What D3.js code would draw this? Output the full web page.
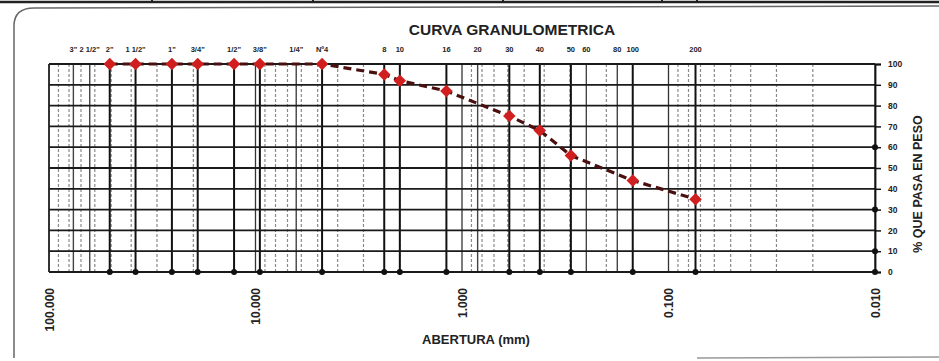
<!DOCTYPE html>
<html><head><meta charset="utf-8">
<script src="https://cdn.jsdelivr.net/npm/d3@7"></script>
<style>
html,body{margin:0;padding:0;background:#fff;}
svg{display:block;font-family:"Liberation Sans",Arial,sans-serif;}
</style></head>
<body><svg id="c" width="939" height="361"></svg>
<script>
// ---- data ----
const sieveLabels = ['3"', '2 1/2"', '2"', '1 1/2"', '1"', '3/4"', '1/2"', '3/8"', '1/4"', 'Nº4', '8', '10', '16', '20', '30', '40', '50', '60', '80', '100', '200'];
const sieveOpenings = [76.2, 63.5, 50.8, 38.1, 25.4, 19.05, 12.7, 9.525, 6.35, 4.76, 2.38, 2.0, 1.19, 0.84, 0.59, 0.42, 0.297, 0.25, 0.177, 0.149, 0.074];
const testedOpenings = [50.8, 38.1, 25.4, 19.05, 12.7, 9.525, 4.76, 2.38, 2.0, 1.19, 0.59, 0.42, 0.297, 0.149, 0.074];
const percentPassing = [100, 100, 100, 100, 100, 100, 100, 95, 92, 87, 75, 68, 56, 44, 35];
const xTickValues = [100, 10, 1, 0.1, 0.01];
const xTickLabels = ["100.000", "10.000", "1.000", "0.100", "0.010"];
const yTickValues = [0, 10, 20, 30, 40, 50, 60, 70, 80, 90, 100];
const rightAxisDots = [60, 30, 10, 0];
const title = "CURVA GRANULOMETRICA";
const xTitle = "ABERTURA (mm)";
const yTitle = "% QUE PASA EN PESO";

// ---- layout ----
const svg = d3.select("#c");
const x = d3.scaleLog().domain([100, 0.01]).range([49, 875]);
const y = d3.scaleLinear().domain([0, 100]).range([272, 64]);
const [x0, x1] = x.range();
const [yb, yt] = y.range();

// scan frame
const frame = svg.append("g").attr("fill", "none").attr("stroke", "#666").attr("stroke-width", 1.5);
frame.append("path").attr("d", "M14,358 L14,26 Q14,8 34,8 L939,6");
frame.append("path").attr("d", "M697,358 L939,357").attr("stroke", "#999");
svg.append("line").attr("x1", 0).attr("x2", 939).attr("y1", 2).attr("y2", 2).attr("stroke", "#222").attr("stroke-width", 2.5);
svg.append("g").selectAll("line").data([152, 313, 503, 662, 697]).join("line")
  .attr("x1", d => d).attr("x2", d => d).attr("y1", 0).attr("y2", 3).attr("stroke", "#222").attr("stroke-width", 2);

// minor log grid
const minor = [];
for (let e = -2; e < 2; e++) for (let m = 2; m <= 9; m++) minor.push(m * Math.pow(10, e));
svg.append("g").selectAll("line").data(minor).join("line")
  .attr("x1", d => x(d)).attr("x2", d => x(d)).attr("y1", yt).attr("y2", yb)
  .attr("stroke", "#8a8a8a").attr("stroke-width", 1.2).attr("stroke-dasharray", "3,2");

// decade lines
svg.append("g").selectAll("line").data(xTickValues).join("line")
  .attr("x1", d => x(d)).attr("x2", d => x(d)).attr("y1", yt).attr("y2", yb)
  .attr("stroke", "#333").attr("stroke-width", 1.3);

// sieve lines
svg.append("g").selectAll("line").data(sieveOpenings).join("line")
  .attr("x1", d => x(d)).attr("x2", d => x(d)).attr("y1", yt).attr("y2", yb)
  .attr("stroke", d => testedOpenings.includes(d) ? "#111" : "#444")
  .attr("stroke-width", d => testedOpenings.includes(d) ? 2 : 1.4);

// horizontal grid
svg.append("g").selectAll("line").data(yTickValues).join("line")
  .attr("x1", x0).attr("x2", x1).attr("y1", d => y(d)).attr("y2", d => y(d))
  .attr("stroke", "#1a1a1a").attr("stroke-width", 1.8);

// right axis
const ra = svg.append("g").attr("transform", `translate(${x1},0)`)
  .call(d3.axisRight(y).tickValues(yTickValues).tickSize(6).tickPadding(7));
ra.select(".domain").attr("stroke", "#111").attr("stroke-width", 1.8);
ra.selectAll(".tick line").attr("stroke", "#111").attr("stroke-width", 1.5);
ra.selectAll("text").attr("font-size", 8.5).attr("font-weight", "bold").attr("fill", "#222");
svg.append("g").selectAll("circle").data(rightAxisDots).join("circle")
  .attr("cx", x1).attr("cy", d => y(d)).attr("r", 3).attr("fill", "#111");

// left border
svg.append("line").attr("x1", x0).attr("x2", x0).attr("y1", yt).attr("y2", yb).attr("stroke", "#222").attr("stroke-width", 1.6);

// bottom dots at tested sieves
svg.append("g").selectAll("circle").data(testedOpenings).join("circle")
  .attr("cx", d => x(d)).attr("cy", yb).attr("r", 3).attr("fill", "#111");

// top sieve labels
svg.append("g").selectAll("text").data(sieveOpenings).join("text")
  .attr("x", d => x(d)).attr("y", 52).attr("text-anchor", "middle")
  .attr("font-size", 7.5).attr("font-weight", "bold").attr("fill", "#222")
  .text((d, i) => sieveLabels[i]);

// x axis labels (rotated)
const xa = svg.append("g").attr("transform", `translate(0,${yb})`)
  .call(d3.axisBottom(x).tickValues(xTickValues).tickSize(0).tickFormat((d, i) => xTickLabels[i]));
xa.select(".domain").remove();
xa.selectAll("text").attr("transform", "rotate(-90)").attr("text-anchor", "end")
  .attr("x", -16).attr("y", 0).attr("dy", "0.35em")
  .attr("font-size", 12).attr("font-weight", "bold").attr("fill", "#222");

// curve
const pts = testedOpenings.map((d, i) => [x(d), y(percentPassing[i])]);
svg.append("path").attr("d", d3.line()(pts)).attr("fill", "none")
  .attr("stroke", "#4a1010").attr("stroke-width", 3.2).attr("stroke-dasharray", "8,5");
svg.append("g").selectAll("path").data(pts).join("path")
  .attr("d", d3.symbol().type(d3.symbolSquare).size(78)())
  .attr("transform", d => `translate(${d[0]},${d[1]}) rotate(45)`)
  .attr("fill", "#d11f1f");

// titles
svg.append("text").attr("x", 512).attr("y", 35).attr("text-anchor", "middle")
  .attr("font-size", 15.5).attr("font-weight", "bold").attr("fill", "#222").text(title);
svg.append("text").attr("x", 476).attr("y", 344).attr("text-anchor", "middle")
  .attr("font-size", 13).attr("font-weight", "bold").attr("fill", "#222").text(xTitle);
svg.append("text").attr("transform", "translate(918,184) rotate(-90)").attr("text-anchor", "middle")
  .attr("dy", "0.35em").attr("font-size", 12.5).attr("font-weight", "bold").attr("fill", "#222").text(yTitle);
</script></body></html>
